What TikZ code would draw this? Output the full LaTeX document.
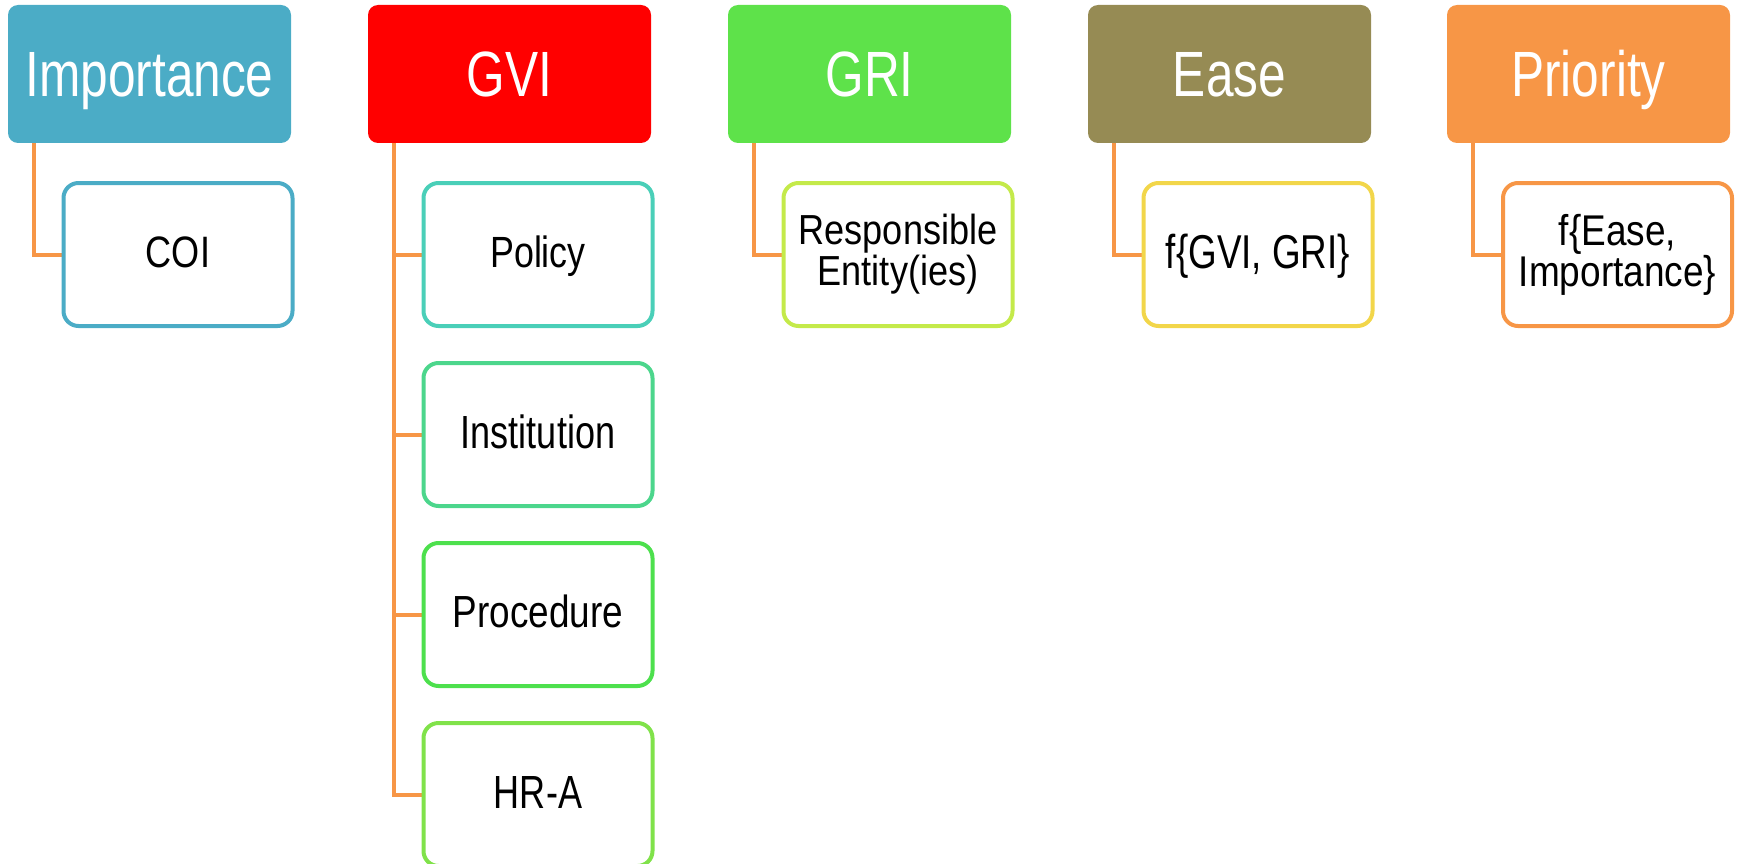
\documentclass[tikz,border=0pt]{standalone}
\usepackage{fontspec}
\setmainfont{Liberation Sans}
\newfontfamily\fA[FakeStretch=0.775]{Liberation Sans}
\newfontfamily\fB[FakeStretch=0.82]{Liberation Sans}
\newfontfamily\fC[FakeStretch=0.86]{Liberation Sans}
\usetikzlibrary{backgrounds}

\definecolor{impc}{HTML}{4BACC6}
\definecolor{gvic}{HTML}{FF0000}
\definecolor{gric}{HTML}{5EE24A}
\definecolor{easc}{HTML}{968B54}
\definecolor{pric}{HTML}{F79646}
\definecolor{linec}{HTML}{F79646}
\definecolor{polc}{HTML}{4ACFB8}
\definecolor{insc}{HTML}{4CD68C}
\definecolor{proc}{HTML}{4DE04D}
\definecolor{hrac}{HTML}{80E24A}
\definecolor{resc}{HTML}{C4EA4A}
\definecolor{fgvc}{HTML}{F2D64A}
\definecolor{feac}{HTML}{F79646}

\tikzset{
  hd/.style={rounded corners=10pt, minimum width=283pt, minimum height=138pt,
    inner sep=0pt, text=white, font={\fA\fontsize{64}{70}\selectfont},
    text height=46pt, text depth=0pt},
  kid/.style={draw, line width=4pt, rounded corners=15pt, fill=white,
    minimum width=229pt, minimum height=143pt, inner sep=0pt,
    align=center, text=black},
  cap/.style={text height=#1, text depth=6pt},
  conn/.style={draw=linec, line width=4pt}
}

\begin{document}
\begin{tikzpicture}[x=1pt, y=-1pt]
\useasboundingbox (0,0) rectangle (1737,864);
\clip (0,0) rectangle (1737,864);

% column headers
\node[hd, fill=impc] (hImp) at (149.5,74) {Importance};
\node[hd, fill=gvic] (hGVI) at (509.5,74) {GVI};
\node[hd, fill=gric] (hGRI) at (869.5,74) {GRI};
\node[hd, fill=easc] (hEas) at (1229.5,74) {Ease};
\node[hd, fill=pric] (hPri) at (1588.5,74) {Priority};

% child boxes
\node[kid, draw=impc, cap=32pt, font={\fB\fontsize{44}{48}\selectfont}] (cCOI) at (178,254.5) {COI};
\node[kid, draw=polc, cap=31pt, font={\fB\fontsize{43.7}{48}\selectfont}] (cPol) at (538,254.5) {Policy};
\node[kid, draw=insc, cap=33pt, font={\fA\fontsize{46.5}{50}\selectfont}] (cIns) at (538,434.5) {Institution};
\node[kid, draw=proc, cap=32pt, font={\fB\fontsize{45}{50}\selectfont}] (cPro) at (538,614.5) {Procedure};
\node[kid, draw=hrac, cap=33pt, font={\fA\fontsize{46.5}{50}\selectfont}] (cHRA) at (538,794.5) {HR-A};
\node[kid, draw=resc, font={\fC\fontsize{42}{41}\selectfont}] (cRes) at (898,254.5) {Responsible\\Entity(ies)};
\node[kid, draw=fgvc, cap=34pt, font={\fA\fontsize{47.5}{52}\selectfont}] (cFGV) at (1258,254.5) {f\{GVI, GRI\}};
\node[kid, draw=feac, font={\fC\fontsize{43}{39}\selectfont}] (cFEa) at (1617.5,254.5) {f\{Ease,\\Importance\}};

% elbow connectors from each header to its children
\begin{scope}[on background layer]
\draw[conn] ([xshift=26pt]hImp.south west) |- (cCOI.west);
\draw[conn] ([xshift=26pt]hGVI.south west) |- (cPol.west);
\draw[conn] ([xshift=26pt]hGVI.south west) |- (cIns.west);
\draw[conn] ([xshift=26pt]hGVI.south west) |- (cPro.west);
\draw[conn] ([xshift=26pt]hGVI.south west) |- (cHRA.west);
\draw[conn] ([xshift=26pt]hGRI.south west) |- (cRes.west);
\draw[conn] ([xshift=26pt]hEas.south west) |- (cFGV.west);
\draw[conn] ([xshift=26pt]hPri.south west) |- (cFEa.west);
\end{scope}
\end{tikzpicture}
\end{document}
